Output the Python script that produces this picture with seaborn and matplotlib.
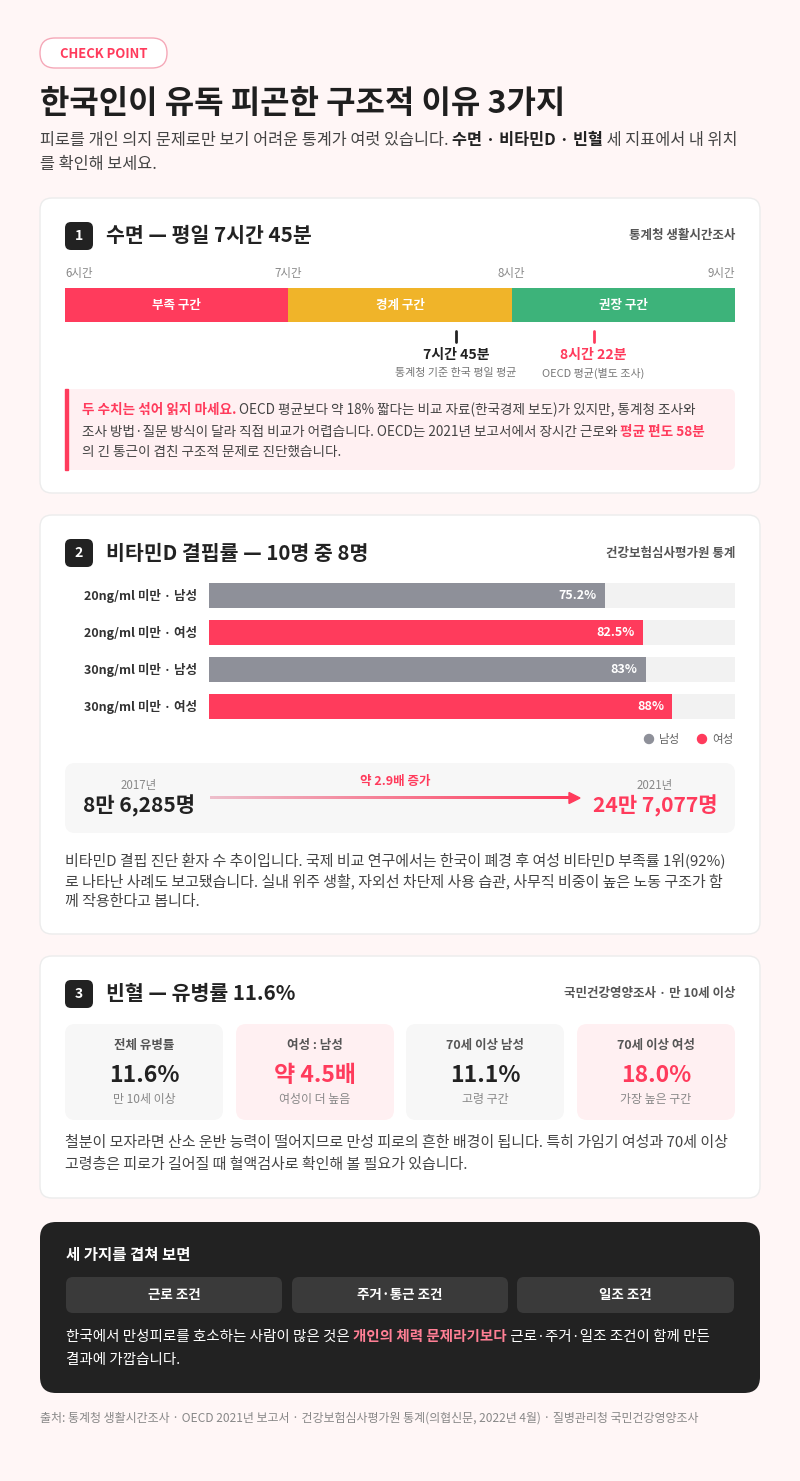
import matplotlib
matplotlib.use("Agg")
import matplotlib.pyplot as plt
import seaborn as sns
import pandas as pd
import numpy as np
from matplotlib.patches import FancyBboxPatch, Rectangle, Circle

sns.set_theme(style="white")
plt.rcParams['font.family'] = ['Noto Sans CJK KR', 'DejaVu Sans']

# ---------------- data ----------------
sleep_zones = ["부족 구간", "경계 구간", "권장 구간"]
sleep_starts = [6, 7, 8]
sleep_ends = [7, 8, 9]
sleep_ticks = ["6시간", "7시간", "8시간", "9시간"]
sleep_korea = 7 + 45/60
sleep_oecd = 8 + 22/60

vit_labels = ["20ng/ml 미만 · 남성", "20ng/ml 미만 · 여성", "30ng/ml 미만 · 남성", "30ng/ml 미만 · 여성"]
vit_values = [75.2, 82.5, 83, 88]
vit_text = ["75.2%", "82.5%", "83%", "88%"]
vit_sex = ["남성", "여성", "남성", "여성"]

anemia_labels = ["전체 유병률", "여성 : 남성", "70세 이상 남성", "70세 이상 여성"]
anemia_values = ["11.6%", "약 4.5배", "11.1%", "18.0%"]
anemia_subs = ["만 10세 이상", "여성이 더 높음", "고령 구간", "가장 높은 구간"]
anemia_hi = [False, True, False, True]

factors = ["근로 조건", "주거·통근 조건", "일조 조건"]

RED = "#ff3b5c"; YEL = "#f0b429"; GRN = "#3db37a"; GRAY = "#8e9099"
DARK = "#222222"; MID = "#444444"; LIGHT = "#888888"

W, H = 800, 1481
fig = plt.figure(figsize=(8, 14.81), dpi=100)
fig.patch.set_facecolor("#fff6f6")
ax = fig.add_axes([0, 0, 1, 1])
ax.set_xlim(0, W); ax.set_ylim(H, 0); ax.axis("off")
R = fig.canvas.get_renderer()
def px(p): return p * 0.72

def T(x, y, s, size, color=DARK, weight="normal", ha="left", va="center", z=5):
    return ax.text(x, y, s, fontsize=px(size), color=color, fontweight=weight, ha=ha, va=va, zorder=z)

def runs(x, y, parts, size):
    for s, c, w in parts:
        t = T(x, y, s, size, c, w)
        x += t.get_window_extent(R).width

def rbox(x, y, w, h, fc, ec="none", r=12, lw=1, z=1):
    ax.add_patch(FancyBboxPatch((x, y), w, h, boxstyle=f"round,pad=0,rounding_size={r}",
                                fc=fc, ec=ec, lw=lw, zorder=z, mutation_aspect=1))

def inset(x, y, w, h):
    a = fig.add_axes([x / W, 1 - (y + h) / H, w / W, h / H])
    a.patch.set_alpha(0)
    return a

# header
rbox(40, 38, 127, 30, "white", "#f5a8b8", r=15)
T(103.5, 54, "CHECK POINT", 13, RED, "bold", ha="center")
T(40, 104, "한국인이 유독 피곤한 구조적 이유 3가지", 32, "#1f1f1f", "bold")
runs(40, 140, [("피로를 개인 의지 문제로만 보기 어려운 통계가 여럿 있습니다. ", MID, "normal"),
               ("수면 · 비타민D · 빈혈", DARK, "bold"),
               (" 세 지표에서 내 위치", MID, "normal")], 16.3)
T(40, 164, "를 확인해 보세요.", 16.3, MID)

def card_head(y0, num, title, src):
    rbox(65, y0 + 24, 28, 28, DARK, r=6, z=2)
    T(79, y0 + 38, num, 14, "white", "bold", ha="center")
    T(106, y0 + 38, title, 20.5, DARK, "bold")
    T(735, y0 + 38, src, 12.5, "#555555", "bold", ha="right")

# ---- card 1
rbox(40, 198, 720, 295, "white", "#ececec")
card_head(198, "1", "수면 — 평일 7시간 45분", "통계청 생활시간조사")
a1 = inset(65, 288, 670, 34)
a1.barh([0] * 3, [e - s for s, e in zip(sleep_starts, sleep_ends)], left=sleep_starts,
        color=[RED, YEL, GRN], height=1.0, linewidth=0)
a1.set_xlim(6, 9); a1.set_ylim(-0.5, 0.5); a1.axis("off")
for s, e, n in zip(sleep_starts, sleep_ends, sleep_zones):
    a1.text((s + e) / 2, 0, n, ha="center", va="center", color="white", fontsize=px(12.5), fontweight="bold")
def sx(v): return 65 + 670 * (v - 6) / 3
for i, t in enumerate(sleep_ticks):
    T(sx(6 + i), 273, t, 11.5, LIGHT, ha=["left", "center", "center", "right"][i])
for v, c, big, small in [(sleep_korea, DARK, "7시간 45분", "통계청 기준 한국 평일 평균"),
                         (sleep_oecd, RED, "8시간 22분", "OECD 평균(별도 조사)")]:
    ax.plot([sx(v), sx(v)], [331, 342], color=c, lw=2)
    T(sx(v), 355, big, 14, c, "bold", ha="center")
    T(sx(v), 373, small, 11, "#777777", ha="center")
rbox(65, 389, 670, 81, "#fff0f2", r=6)
ax.add_patch(Rectangle((65, 389), 3, 81, color=RED, zorder=2))
runs(82, 410, [("두 수치는 섞어 읽지 마세요.", RED, "bold"),
               (" OECD 평균보다 약 18% 짧다는 비교 자료(한국경제 보도)가 있지만, 통계청 조사와", MID, "normal")], 13.6)
runs(82, 432, [("조사 방법·질문 방식이 달라 직접 비교가 어렵습니다. OECD는 2021년 보고서에서 장시간 근로와 ", MID, "normal"),
               ("평균 편도 58분", RED, "bold")], 13.6)
T(82, 452, "의 긴 통근이 겹친 구조적 문제로 진단했습니다.", 13.6, MID)

# ---- card 2
rbox(40, 515, 720, 419, "white", "#ececec")
card_head(515, "2", "비타민D 결핍률 — 10명 중 8명", "건강보험심사평가원 통계")
df = pd.DataFrame({"label": vit_labels, "value": vit_values, "sex": vit_sex, "full": [100] * 4})
a2 = inset(209, 577, 526, 148)
sns.barplot(data=df, y="label", x="full", color="#f2f2f2", ax=a2, width=0.68, saturation=1, linewidth=0)
sns.barplot(data=df, y="label", x="value", hue="sex", palette={"남성": GRAY, "여성": RED},
            ax=a2, width=0.68, dodge=False, legend=False, saturation=1, linewidth=0)
a2.set_xlim(0, 100); a2.axis("off")
for i, (v, t) in enumerate(zip(vit_values, vit_text)):
    a2.text(v - 1.5, i, t, ha="right", va="center", color="white", fontsize=px(12.5), fontweight="bold")
for i, l in enumerate(vit_labels):
    T(197, 596 + 37 * i, l, 12.5, "#333333", "bold", ha="right")
ax.add_patch(Circle((649, 739), 4.5, color=GRAY, zorder=3)); T(659, 739, "남성", 11.5, "#666666")
ax.add_patch(Circle((702, 739), 4.5, color=RED, zorder=3)); T(712, 739, "여성", 11.5, "#666666")
rbox(65, 763, 670, 70, "#f7f7f7", r=10)
T(139, 785, "2017년", 11.5, LIGHT, ha="center"); T(139, 806, "8만 6,285명", 21, DARK, "bold", ha="center")
T(655, 785, "2021년", 11.5, LIGHT, ha="center"); T(655, 806, "24만 7,077명", 21, RED, "bold", ha="center")
T(395, 782, "약 2.9배 증가", 12.5, RED, "bold", ha="center")
grad = np.linspace(0, 1, 256)
c0 = np.array([0.93, 0.75, 0.80]); c1 = np.array([1, 0.23, 0.36])
img = (c0[None, :] * (1 - grad[:, None]) + c1[None, :] * grad[:, None])[None, :, :]
ax.imshow(img, extent=(210, 570, 799.5, 796.5), aspect="auto", zorder=3)
ax.set_xlim(0, W); ax.set_ylim(H, 0)
ax.add_patch(plt.Polygon([[569, 792.5], [580, 798], [569, 803.5]], color=RED, zorder=3))
T(65, 860, "비타민D 결핍 진단 환자 수 추이입니다. 국제 비교 연구에서는 한국이 폐경 후 여성 비타민D 부족률 1위(92%)", 15, MID)
T(65, 881, "로 나타난 사례도 보고됐습니다. 실내 위주 생활, 자외선 차단제 사용 습관, 사무직 비중이 높은 노동 구조가 함", 15, MID)
T(65, 902, "께 작용한다고 봅니다.", 15, MID)

# ---- card 3
rbox(40, 956, 720, 242, "white", "#ececec")
card_head(956, "3", "빈혈 — 유병률 11.6%", "국민건강영양조사 · 만 10세 이상")
bx = [65, 236, 406, 577]
for x, l, v, s, hi in zip(bx, anemia_labels, anemia_values, anemia_subs, anemia_hi):
    rbox(x, 1024, 158, 96, "#fff0f2" if hi else "#f7f7f7", r=10)
    cx = x + 79
    T(cx, 1046, l, 12.5, "#555555", "bold", ha="center")
    T(cx, 1075, v, 23, RED if hi else DARK, "bold", ha="center")
    T(cx, 1100, s, 12, LIGHT, ha="center")
T(65, 1143, "철분이 모자라면 산소 운반 능력이 떨어지므로 만성 피로의 흔한 배경이 됩니다. 특히 가임기 여성과 70세 이상", 15, MID)
T(65, 1165, "고령층은 피로가 길어질 때 혈액검사로 확인해 볼 필요가 있습니다.", 15, MID)

# ---- dark card
rbox(40, 1222, 720, 171, "#222222", r=16)
T(66, 1255, "세 가지를 겹쳐 보면", 15.5, "white", "bold")
for x0, x1, f in zip([66, 292, 517], [282, 508, 734], factors):
    rbox(x0, 1277, x1 - x0, 36, "#3a3a3a", r=7, z=2)
    T((x0 + x1) / 2, 1295, f, 13.5, "white", "bold", ha="center")
runs(66, 1337, [("한국에서 만성피로를 호소하는 사람이 많은 것은 ", "white", "normal"),
                ("개인의 체력 문제라기보다", "#ff7f95", "bold"),
                (" 근로·주거·일조 조건이 함께 만든", "white", "normal")], 14.5)
T(66, 1360, "결과에 가깝습니다.", 14.5, "white")

T(40, 1418, "출처: 통계청 생활시간조사 · OECD 2021년 보고서 · 건강보험심사평가원 통계(의협신문, 2022년 4월) · 질병관리청 국민건강영양조사", 12, LIGHT)

fig.savefig("out.png", dpi=100, facecolor=fig.get_facecolor())
